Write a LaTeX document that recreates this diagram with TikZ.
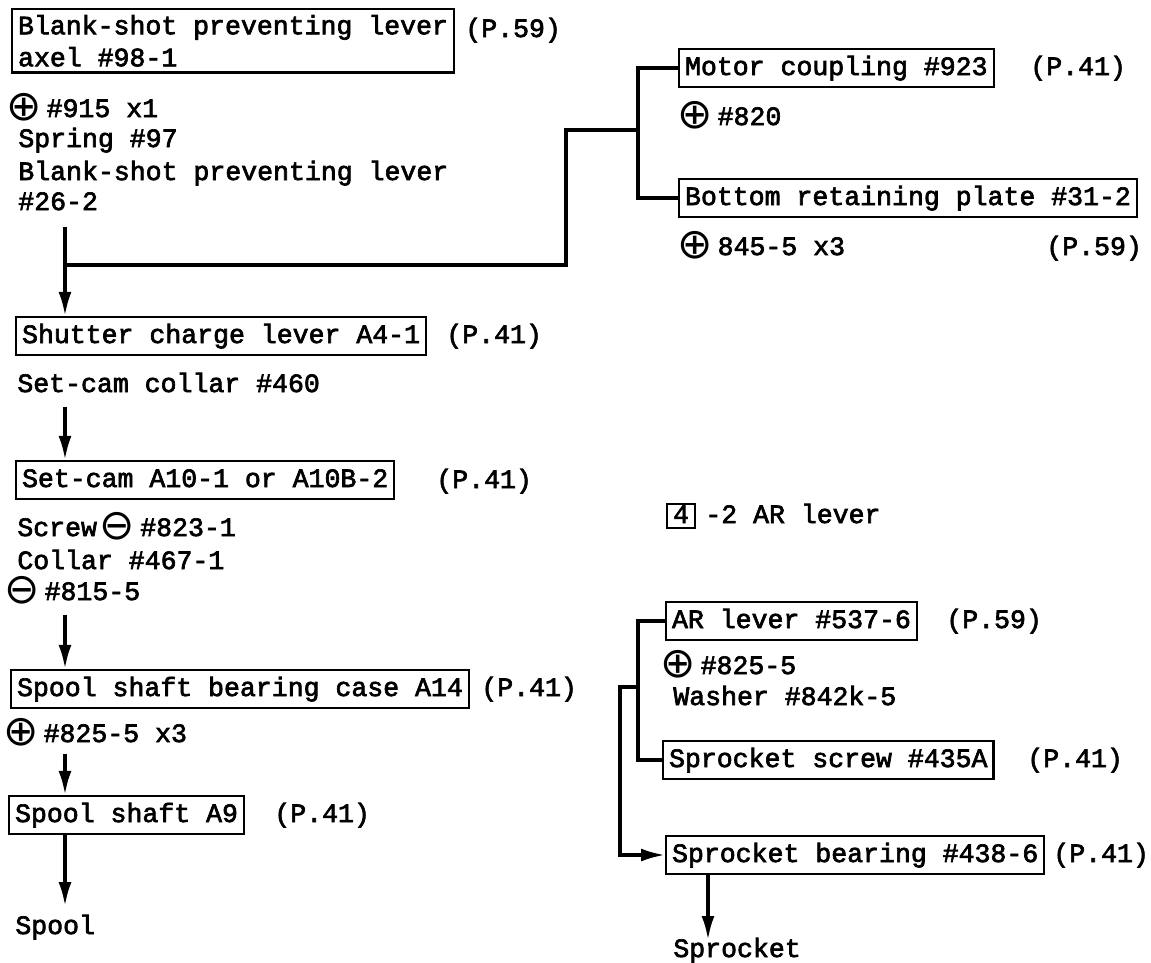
\documentclass[tikz,border=0pt]{standalone}
\usepackage{fontspec}
\setmainfont{Liberation Mono}[FakeBold=2.5]
\newfontfamily\symf{DejaVu Sans}
\usetikzlibrary{arrows.meta}
\newcommand\cplus{\raisebox{-2pt}{\symf\fontsize{24}{24}\selectfont ⊕}\hspace{0.1cm}}
\newcommand\cminus{\raisebox{-2pt}{\symf\fontsize{24}{24}\selectfont ⊖}\hspace{0.1cm}}

\begin{document}
\begin{tikzpicture}[
  every node/.style={font=\fontsize{15.1}{18.2}\selectfont, inner sep=0pt, anchor=west, text height=10pt, text depth=2pt},
  part/.style={draw, line width=1.2pt, inner xsep=0.12cm, inner ysep=0.17cm},
  wire/.style={line width=1.9pt},
  arr/.style={wire, -{Latex[length=0.48cm,width=0.26cm]}}]
\useasboundingbox (0,0) rectangle (23.02,-19.24);
% spool side
\node[part, align=left, anchor=north west, text height={}, text depth={}, inner ysep=0.12cm] (axel) at (0.22,-0.16) {Blank-shot preventing lever\\axel \#98-1};
\node (axelp) at (9.30,-0.60) {(P.59)};
\node (s915) at (0.12,-2.20) {\cplus\#915 x1};
\node (spring) at (0.36,-2.80) {Spring \#97};
\node (blank) at (0.36,-3.46) {Blank-shot preventing lever};
\node (b262) at (0.36,-4.06) {\#26-2};
\node[part] (shutter) at (0.30,-6.72) {Shutter charge lever A4-1};
\node (shutterp) at (8.92,-6.72) {(P.41)};
\node (collar460) at (0.34,-7.70) {Set-cam collar \#460};
\node[part] (setcam) at (0.30,-9.60) {Set-cam A10-1 or A10B-2};
\node (setcamp) at (8.72,-9.62) {(P.41)};
\node (screw) at (0.34,-10.58) {Screw\hspace{0.06cm}\cminus\#823-1};
\node (collar467) at (0.34,-11.24) {Collar \#467-1};
\node (s815) at (0.08,-11.86) {\cminus\#815-5};
\node[part] (bcase) at (0.20,-13.78) {Spool shaft bearing case A14};
\node (bcasep) at (9.62,-13.78) {(P.41)};
\node (s825) at (0.06,-14.70) {\cplus\#825-5 x3};
\node[part] (shaft) at (0.16,-16.30) {Spool shaft A9};
\node (shaftp) at (5.48,-16.30) {(P.41)};
\node (spool) at (0.30,-18.54) {Spool};
\coordinate (t0) at (1.30,-4.54);
\coordinate (jL) at (1.30,-5.30);
\coordinate (jR) at (11.32,-2.60);
\coordinate (fork) at (12.76,-2.60);
\draw[arr] (t0) -- (t0 |- shutter.north);
\draw[arr] (t0 |- collar460.south) ++(0,-0.22) -- (t0 |- setcam.north);
\draw[arr] (t0 |- s815.south) ++(0,-0.22) -- (t0 |- bcase.north);
\draw[arr] (t0 |- s825.south) ++(0,-0.16) -- (t0 |- shaft.north);
\draw[arr] (t0 |- shaft.south) -- ([yshift=0.2cm]t0 |- spool.north);
% motor side
\node[part] (motor) at (13.56,-1.36) {Motor coupling \#923};
\node (motorp) at (20.60,-1.36) {(P.41)};
\node (s820) at (13.54,-2.36) {\cplus\#820};
\node[part] (plate) at (13.56,-3.96) {Bottom retaining plate \#31-2};
\node (s845) at (13.54,-4.96) {\cplus 845-5 x3};
\node (platep) at (20.92,-4.96) {(P.59)};
\draw[wire] (jL) -| (jR) -- (fork);
\draw[wire] (motor.west) -| (fork) |- (plate.west);
% sprocket side
\node[part, inner xsep=0.12cm, inner ysep=0.03cm] (four) at (13.32,-10.32) {4};
\node (arhead) at (14.10,-10.32) {-2 AR lever};
\node[part] (ar) at (13.30,-12.42) {AR lever \#537-6};
\node (arp) at (18.92,-12.42) {(P.59)};
\node (s8255) at (13.20,-13.34) {\cplus\#825-5};
\node (washer) at (13.46,-13.96) {Washer \#842k-5};
\node[part] (sscrew) at (13.24,-15.20) {Sprocket screw \#435A};
\node (sscrewp) at (20.54,-15.20) {(P.41)};
\node[part] (bearing) at (13.30,-17.10) {Sprocket bearing \#438-6};
\node (bearingp) at (21.06,-17.10) {(P.41)};
\node (sprocket) at (13.46,-19.00) {Sprocket};
\coordinate (rf) at (12.76,-13.74);
\coordinate (rb) at (12.40,-13.74);
\coordinate (sk) at (14.16,-18.80);
\draw[wire] (ar.west) -| (rf) |- (sscrew.west);
\draw[arr] (rf) -- (rb) |- (bearing.west);
\draw[arr] (sk |- bearing.south) -- (sk);
\end{tikzpicture}
\end{document}
